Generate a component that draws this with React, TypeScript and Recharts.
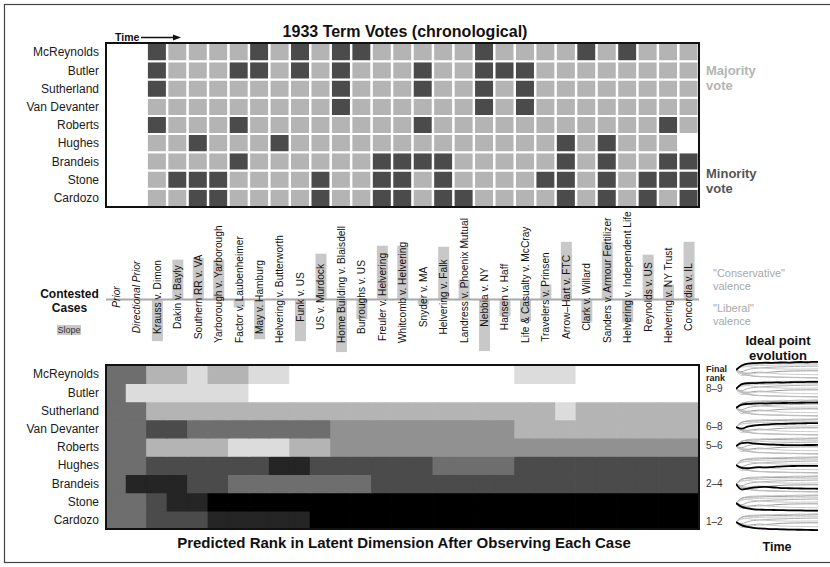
import React from "react";
import { BarChart, Bar, Cell, XAxis, YAxis, ReferenceLine, LineChart, Line } from "recharts";

const FONT = '"Liberation Sans", Arial, Helvetica, sans-serif';

const JUSTICES = [
  "McReynolds",
  "Butler",
  "Sutherland",
  "Van Devanter",
  "Roberts",
  "Hughes",
  "Brandeis",
  "Stone",
  "Cardozo",
];

const CASES = [
  "Krauss v. Dimon",
  "Dakin v. Bayly",
  "Southern RR v. VA",
  "Yarborough v. Yarborough",
  "Factor v. Laubenheimer",
  "May v. Hamburg",
  "Helvering v. Butterworth",
  "Funk v. US",
  "US v. Murdock",
  "Home Building v. Blaisdell",
  "Burroughs v. US",
  "Freuler v. Helvering",
  "Whitcomb v. Helvering",
  "Snyder v. MA",
  "Helvering v. Falk",
  "Landress v. Phoenix Mutual",
  "Nebbia v. NY",
  "Hansen v. Haff",
  "Life & Casualty v. McCray",
  "Travelers v. Prinsen",
  "Arrow\u2013Hart v. FTC",
  "Clark v. Willard",
  "Sanders v. Armour Fertilizer",
  "Helvering v. Independent Life",
  "Reynolds v. US",
  "Helvering v. NY Trust",
  "Concordia v. IL",
];

const PRIORS = ["Prior", "Directional Prior"];
const COLUMNS = [...PRIORS, ...CASES];

// case numbers (1..27) in which each justice voted with the minority
const MINORITY_VOTES = [
  [1, 6, 8, 10, 11, 17, 22, 24],
  [1, 5, 6, 8, 10, 14, 17, 18, 19],
  [1, 10, 14, 17, 19],
  [10, 17, 19],
  [1, 5, 14, 26],
  [3, 7, 21, 23],
  [5, 12, 13, 14, 15, 21, 23, 26, 27],
  [2, 3, 4, 9, 12, 13, 15, 20, 21, 23, 25, 26, 27],
  [3, 4, 9, 12, 13, 15, 16, 21, 23, 25, 27],
];
const ABSENT = [[], [], [], [], [], [27], [], [], []];

// case slope: positive = "conservative" valence, negative = "liberal"
const SLOPES = [
  0, 0, -42, 40, 42, 40, -8, -40, 0, -42, 46, -53, -20, 54, 54, -5, 53, 20, -52, -17, -22, 15, 58, -23,
  58, -23, 45, 15, 58,
];

// predicted rank level after each column (0 = most liberal/black .. 7 = most conservative/white)
const RANK_LEVELS = [
  [3, 3, 5, 5, 6, 5, 5, 6, 6, 7, 7, 7, 7, 7, 7, 7, 7, 7, 7, 7, 6, 6, 6, 7, 7, 7, 7, 7, 7],
  [3, 6, 6, 6, 6, 6, 6, 7, 7, 7, 7, 7, 7, 7, 7, 7, 7, 7, 7, 7, 7, 7, 7, 7, 7, 7, 7, 7, 7],
  [3, 3, 5, 5, 5, 5, 5, 5, 5, 5, 5, 5, 5, 5, 5, 5, 5, 5, 5, 5, 5, 5, 6, 5, 5, 5, 5, 5, 5],
  [3, 3, 2, 2, 3, 3, 3, 3, 3, 3, 3, 4, 4, 4, 4, 4, 4, 4, 4, 4, 5, 5, 5, 5, 5, 5, 5, 5, 5],
  [3, 3, 5, 5, 5, 5, 6, 6, 6, 5, 5, 4, 4, 4, 4, 4, 4, 4, 4, 4, 4, 4, 4, 4, 4, 4, 4, 4, 4],
  [3, 3, 2, 2, 2, 2, 2, 2, 1, 1, 2, 2, 2, 2, 2, 2, 3, 3, 3, 3, 2, 2, 2, 2, 2, 2, 2, 2, 2],
  [3, 1, 1, 1, 2, 2, 3, 3, 3, 3, 3, 3, 3, 2, 2, 2, 2, 2, 2, 2, 2, 2, 2, 2, 2, 2, 2, 2, 2],
  [3, 3, 2, 1, 1, 0, 0, 0, 0, 0, 0, 0, 0, 0, 0, 0, 0, 0, 0, 0, 0, 0, 0, 0, 0, 0, 0, 0, 0],
  [3, 3, 2, 2, 2, 1, 1, 1, 1, 1, 0, 0, 0, 0, 0, 0, 0, 0, 0, 0, 0, 0, 0, 0, 0, 0, 0, 0, 0],
];
const GRAYS = ["#000000", "#252525", "#4b4b4b", "#6e6e6e", "#919191", "#b4b4b4", "#dcdcdc", "#ffffff"];

// ideal point trajectories (up = conservative), one per justice
const IDEAL_POINTS = [
  [0, 0.55, 0.78, 0.84, 0.86, 0.9, 0.87, 0.9, 0.94, 0.91, 0.95, 0.98, 0.95, 0.99, 1.0],
  [0, 0.6, 0.7, 0.72, 0.74, 0.77, 0.79, 0.8, 0.79, 0.82, 0.84, 0.83, 0.86, 0.87, 0.88],
  [0, 0.42, 0.5, 0.54, 0.56, 0.55, 0.58, 0.6, 0.61, 0.62, 0.62, 0.64, 0.65, 0.66, 0.67],
  [0, -0.2, 0.05, 0.18, 0.25, 0.3, 0.34, 0.37, 0.38, 0.41, 0.43, 0.44, 0.46, 0.47, 0.48],
  [0, 0.36, 0.42, 0.32, 0.25, 0.2, 0.17, 0.14, 0.12, 0.1, 0.1, 0.11, 0.12, 0.12, 0.13],
  [0, -0.36, -0.4, -0.32, -0.26, -0.3, -0.26, -0.2, -0.16, -0.13, -0.12, -0.11, -0.1, -0.1, -0.1],
  [0, -0.68, -0.56, -0.44, -0.37, -0.36, -0.4, -0.45, -0.5, -0.52, -0.54, -0.55, -0.56, -0.57, -0.58],
  [0, -0.48, -0.66, -0.77, -0.82, -0.83, -0.85, -0.86, -0.87, -0.89, -0.9, -0.91, -0.92, -0.93, -0.94],
  [0, -0.42, -0.6, -0.72, -0.78, -0.82, -0.86, -0.88, -0.9, -0.92, -0.94, -0.95, -0.97, -0.98, -1.0],
];
const LINE_GRAYS = ["#c4c4c4", "#a4a4a4", "#cfcfcf", "#acacac", "#c8c8c8", "#9a9a9a", "#cccccc", "#b0b0b0", "#c0c0c0"];

const FINAL_RANKS = [
  { label: "8\u20139", panel: 1 },
  { label: "6\u20138", panel: 3 },
  { label: "5\u20136", panel: 4 },
  { label: "2\u20134", panel: 6 },
  { label: "1\u20132", panel: 8 },
];

const gridRows = COLUMNS.map((name) => {
  const row: Record<string, any> = { name };
  JUSTICES.forEach((_, j) => (row[`j${j}`] = 1));
  return row;
});
const slopeRows = COLUMNS.map((name, k) => ({ name, slope: SLOPES[k] }));
const idealRows = IDEAL_POINTS[0].map((_, t) => {
  const row: Record<string, number> = { t };
  IDEAL_POINTS.forEach((s, j) => (row[`j${j}`] = s[t]));
  return row;
});

function voteColor(j: number, k: number) {
  if (k < PRIORS.length) return "#ffffff";
  const c = k - PRIORS.length + 1;
  if (ABSENT[j].includes(c)) return "#ffffff";
  return MINORITY_VOTES[j].includes(c) ? "#4b4b4b" : "#b4b4b4";
}

const LABEL_FONT = 10.2;
let measureCtx: CanvasRenderingContext2D | null = null;
function textWidth(s: string, italic: boolean) {
  if (!measureCtx) measureCtx = document.createElement("canvas").getContext("2d");
  if (!measureCtx) return s.length * 5.3;
  measureCtx.font = `${italic ? "italic " : ""}${LABEL_FONT}px "Liberation Sans"`;
  return measureCtx.measureText(s).width;
}

const LABEL_TOP = 205;
const LABEL_MID = 297 - LABEL_TOP;
const LABEL_BOTTOM = 343 - LABEL_TOP;

function CaseTick(props: any) {
  const { x, payload } = props;
  const label = String(payload.value);
  const italic = PRIORS.includes(label);
  const w = textWidth(label, italic);
  const y = Math.min(LABEL_MID + w / 2, LABEL_BOTTOM);
  return (
    <text
      x={x}
      y={y}
      dy="0.36em"
      transform={`rotate(-90, ${x}, ${y})`}
      textAnchor="start"
      fontSize={LABEL_FONT}
      fontStyle={italic ? "italic" : "normal"}
      fill="#111"
    >
      {label}
    </text>
  );
}

const yTicks = JUSTICES.map((_, i) => i + 0.5);
const justiceName = (v: number) => JUSTICES[Math.round(JUSTICES.length - 0.5 - v)];

function Heatmap({ top, colorOf, grid }: { top: number; colorOf: (j: number, k: number) => string; grid: boolean }) {
  return (
    <div style={{ position: "absolute", left: 0, top }}>
      <BarChart
        width={699}
        height={164}
        data={gridRows}
        margin={{ top: 0, right: 0, bottom: 0, left: 0 }}
        barCategoryGap={0}
        barGap={0}
      >
        <XAxis dataKey="name" hide />
        <YAxis
          type="number"
          domain={[0, JUSTICES.length]}
          ticks={yTicks}
          interval={0}
          tickFormatter={justiceName}
          width={106}
          axisLine={false}
          tickLine={false}
          tickSize={0}
          tickMargin={7}
          tick={{ fontSize: 12, fill: "#1a1a1a" }}
        />
        {JUSTICES.map((_, i) => {
          const j = JUSTICES.length - 1 - i;
          return (
            <Bar key={j} dataKey={`j${j}`} stackId="s" isAnimationActive={false} strokeWidth={grid ? 2 : 1.4}>
              {COLUMNS.map((c, k) => (
                <Cell key={c} fill={colorOf(j, k)} stroke={grid ? "#ffffff" : colorOf(j, k)} />
              ))}
            </Bar>
          );
        })}
      </BarChart>
    </div>
  );
}

function IdealPanel({ index }: { index: number }) {
  const mid = 370 + index * 18.95;
  return (
    <div style={{ position: "absolute", left: 736, top: mid - 9 }}>
      <LineChart width={82} height={18} data={idealRows} margin={{ top: 0, right: 0, bottom: 0, left: 0 }}>
        <XAxis dataKey="t" type="number" domain={[0, 14]} hide />
        <YAxis type="number" domain={[-1.1, 1.1]} hide />
        {JUSTICES.map((_, j) =>
          j === index ? null : (
            <Line
              key={j}
              dataKey={`j${j}`}
              type="monotone"
              dot={false}
              stroke={LINE_GRAYS[j]}
              strokeWidth={1}
              isAnimationActive={false}
            />
          )
        )}
        <Line dataKey={`j${index}`} type="monotone" dot={false} stroke="#000" strokeWidth={1.8} isAnimationActive={false} />
      </LineChart>
    </div>
  );
}

export default function App() {
  return (
    <div
      style={{
        position: "relative",
        width: 830,
        height: 567,
        overflow: "hidden",
        background: "#fff",
        fontFamily: FONT,
      }}
    >
      <style>{`body{margin:0}`}</style>

      <Heatmap top={43} colorOf={voteColor} grid />
      <Heatmap top={365} colorOf={(j, k) => GRAYS[RANK_LEVELS[j][k]]} grid={false} />

      <div style={{ position: "absolute", left: 0, top: LABEL_TOP }}>
        <BarChart
          width={699}
          height={160}
          data={slopeRows}
          margin={{ top: 0, right: 0, bottom: 0, left: 106 }}
          barCategoryGap={0}
        >
          <YAxis type="number" domain={[-65, 95]} hide />
          <Bar dataKey="slope" fill="#c8c8c8" barSize={11} isAnimationActive={false} />
          <ReferenceLine y={0} stroke="#a8a8a8" strokeWidth={2} />
          <XAxis
            dataKey="name"
            interval={0}
            height={1}
            axisLine={false}
            tickLine={false}
            tick={(p: any) => <CaseTick {...p} />}
          />
        </BarChart>
      </div>

      {JUSTICES.map((_, i) => (
        <IdealPanel key={i} index={i} />
      ))}

      <svg width={830} height={567} style={{ position: "absolute", left: 0, top: 0, pointerEvents: "none" }}>
        <rect x={4.5} y={4.5} width={840} height={558} fill="none" stroke="#444" strokeWidth={1.2} />
        <rect x={106} y={43} width={593} height={164} fill="none" stroke="#111" strokeWidth={2} />
        <rect x={106} y={365} width={593} height={164} fill="none" stroke="#111" strokeWidth={2} />

        <text x={405} y={37} textAnchor="middle" fontSize={16} fontWeight="bold" fill="#111">
          1933 Term Votes (chronological)
        </text>
        <text x={115} y={40.5} fontSize={10.5} fontWeight="bold" fill="#111">
          Time
        </text>
        <line x1={141} y1={37.5} x2={175} y2={37.5} stroke="#111" strokeWidth={1.3} />
        <path d="M173 34.5 L181 37.5 L173 40.5 Z" fill="#111" />

        <text x={706} y={75} fontSize={13} fontWeight="bold" fill="#b4b4b4">
          Majority
        </text>
        <text x={706} y={90} fontSize={13} fontWeight="bold" fill="#b4b4b4">
          vote
        </text>
        <text x={706} y={178} fontSize={13} fontWeight="bold" fill="#555">
          Minority
        </text>
        <text x={706} y={193} fontSize={13} fontWeight="bold" fill="#555">
          vote
        </text>

        <text x={69.5} y={298} textAnchor="middle" fontSize={12} fontWeight="bold" fill="#111">
          Contested
        </text>
        <text x={69.5} y={312} textAnchor="middle" fontSize={12} fontWeight="bold" fill="#111">
          Cases
        </text>
        <rect x={57} y={325} width={24} height={10} fill="#c8c8c8" />
        <text x={69} y={333} textAnchor="middle" fontSize={9} fill="#333">
          Slope
        </text>

        <text x={713} y={277} fontSize={11} fill="#a8a8a8">
          "Conservative"
        </text>
        <text x={713} y={289.5} fontSize={11} fill="#a8a8a8">
          valence
        </text>
        <text x={713} y={312} fontSize={11} fill="#a8a8a8">
          "Liberal"
        </text>
        <text x={713} y={325} fontSize={11} fill="#a8a8a8">
          valence
        </text>

        <text x={778} y={345} textAnchor="middle" fontSize={13} fontWeight="bold" fill="#111">
          Ideal point
        </text>
        <text x={778} y={360} textAnchor="middle" fontSize={13} fontWeight="bold" fill="#111">
          evolution
        </text>

        <text x={706} y={372} fontSize={9} fontWeight="bold" fill="#222">
          Final
        </text>
        <text x={706} y={380.5} fontSize={9} fontWeight="bold" fill="#222">
          rank
        </text>
        {FINAL_RANKS.map((r) => (
          <text key={r.label} x={706} y={373 + r.panel * 18.95} fontSize={10} fill="#333">
            {r.label}
          </text>
        ))}

        <text x={404} y={548} textAnchor="middle" fontSize={15} fontWeight="bold" fill="#111">
          Predicted Rank in Latent Dimension After Observing Each Case
        </text>
        <text x={777} y={551} textAnchor="middle" fontSize={12.5} fontWeight="bold" fill="#111">
          Time
        </text>
      </svg>
    </div>
  );
}
